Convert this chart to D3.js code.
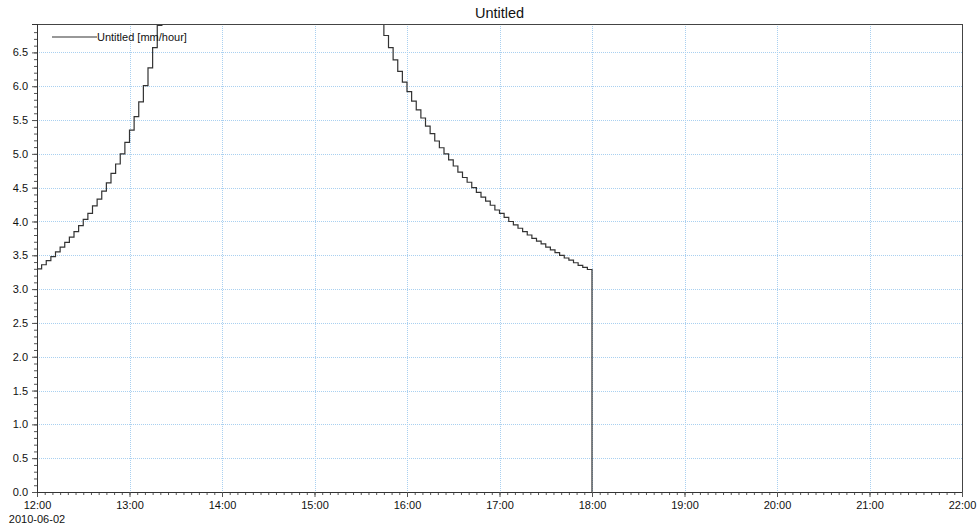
<!DOCTYPE html>
<html>
<head>
<meta charset="utf-8">
<script src="https://cdn.jsdelivr.net/npm/d3@7"></script>
<style>
  body { margin: 0; background: #fff; }
  svg { display: block; font-family: "Liberation Sans", Arial, sans-serif; }
</style>
</head>
<body>
<div id="chart-area"></div>
<script>
// series: rainfall intensity, one value per 3 minute step starting 2010-06-02 12:00
var seriesName = "Untitled [mm/hour]";
var chartTitle = "Untitled";
var startTime = "2010-06-02 12:00";
var stepMinutes = 3;
var intensity = [
    3.30, 3.36, 3.42, 3.48, 3.55, 3.62, 3.69, 3.77, 3.85, 3.94,
    4.03, 4.12, 4.23, 4.33, 4.45, 4.57, 4.71, 4.85, 5.00, 5.17,
    5.35, 5.55, 5.77, 6.01, 6.27, 6.57, 6.90, 7.28, 7.72, 8.22,
    8.80, 9.50, 10.3, 11.3, 12.6, 14.3, 16.5, 19.5, 23.5, 29.0,
    37.0, 48.0, 63.0, 82.0, 105.0, 92.0, 78.0, 66.0, 56.0, 47.0,
    40.0, 34.0, 29.5, 26.0, 23.0, 20.7, 18.7, 17.0, 15.6, 14.4,
    13.4, 12.5, 11.7, 11.0, 10.4, 9.90, 9.40, 9.00, 8.61, 8.27,
    7.96, 7.68, 7.42, 7.18, 6.96, 6.75, 6.57, 6.39, 6.22, 6.06,
    5.92, 5.78, 5.65, 5.53, 5.41, 5.30, 5.19, 5.09, 5.00, 4.91,
    4.82, 4.73, 4.65, 4.58, 4.50, 4.43, 4.36, 4.30, 4.24, 4.17,
    4.12, 4.06, 4.00, 3.95, 3.90, 3.85, 3.80, 3.75, 3.71, 3.67,
    3.62, 3.58, 3.54, 3.50, 3.46, 3.43, 3.39, 3.35, 3.32, 3.29
];
var xDomain = ["2010-06-02 12:00", "2010-06-02 22:00"];
var yDomain = [0, 6.92];
var yTickValues = [0, 0.5, 1, 1.5, 2, 2.5, 3, 3.5, 4, 4.5, 5, 5.5, 6, 6.5];

var width = 979, height = 529;
var margin = {top: 24, right: 17, bottom: 37, left: 37};
var innerW = width - margin.left - margin.right;
var innerH = height - margin.top - margin.bottom;

var parseTime = d3.timeParse("%Y-%m-%d %H:%M");
var t0 = parseTime(startTime);

var dataset = intensity.map(function(v, i) {
    return {time: d3.timeMinute.offset(t0, i * stepMinutes), value: v};
});
// step ends at 18:00 and drops to zero
var last = dataset[dataset.length - 1];
dataset.push({time: d3.timeMinute.offset(last.time, stepMinutes), value: last.value});
dataset.push({time: d3.timeMinute.offset(last.time, stepMinutes), value: 0});

var xScale = d3.scaleTime()
    .domain(xDomain.map(parseTime))
    .range([0, innerW]);
var yScale = d3.scaleLinear()
    .domain(yDomain)
    .range([innerH, 0]);

var svg = d3.select("#chart-area").append("svg")
    .attr("width", width)
    .attr("height", height);

svg.append("text")
    .attr("x", margin.left + innerW / 2)
    .attr("y", 18)
    .attr("text-anchor", "middle")
    .style("font-size", "14.5px")
    .style("fill", "#111")
    .text(chartTitle);

var g = svg.append("g")
    .attr("transform", "translate(" + margin.left + "," + margin.top + ")");

g.append("clipPath").attr("id", "plot-clip")
    .append("rect")
    .attr("width", innerW)
    .attr("height", innerH);

// grid
var hourTicks = xScale.ticks(d3.timeHour.every(1));
g.append("g").selectAll("line").data(hourTicks.slice(1, -1)).enter().append("line")
    .attr("x1", function(d) { return Math.round(xScale(d)) + 0.5; })
    .attr("x2", function(d) { return Math.round(xScale(d)) + 0.5; })
    .attr("y1", 0)
    .attr("y2", innerH)
    .style("stroke", "#a9d0f0")
    .style("stroke-dasharray", "1,1");
g.append("g").selectAll("line").data(yTickValues.slice(1)).enter().append("line")
    .attr("x1", 0)
    .attr("x2", innerW)
    .attr("y1", function(d) { return Math.round(yScale(d)) + 0.5; })
    .attr("y2", function(d) { return Math.round(yScale(d)) + 0.5; })
    .style("stroke", "#a9d0f0")
    .style("stroke-dasharray", "1,1");

// series
var line = d3.line()
    .x(function(d) { return xScale(d.time); })
    .y(function(d) { return yScale(d.value); })
    .curve(d3.curveStepAfter);

g.append("path")
    .datum(dataset)
    .attr("clip-path", "url(#plot-clip)")
    .attr("d", line)
    .style("fill", "none")
    .style("stroke", "#333")
    .style("stroke-width", 1.2);

// frame
g.append("rect")
    .attr("x", 0.5)
    .attr("y", 0.5)
    .attr("width", innerW)
    .attr("height", innerH)
    .style("fill", "none")
    .style("stroke", "#444");

// x axis: hour labels, 5 minute minor ticks
var xMinor = d3.axisBottom(xScale)
    .ticks(d3.timeMinute.every(5))
    .tickSize(3)
    .tickFormat("");
var xAxis = d3.axisBottom(xScale)
    .ticks(d3.timeHour.every(1))
    .tickSize(5)
    .tickPadding(4)
    .tickFormat(d3.timeFormat("%H:%M"));

var gxm = g.append("g").attr("transform", "translate(0," + innerH + ")").call(xMinor);
var gx = g.append("g").attr("transform", "translate(0," + innerH + ")").call(xAxis);
gx.selectAll("text").style("font-size", "11px").style("fill", "#111");
gx.append("text")
    .attr("x", xScale(parseTime(xDomain[0])))
    .attr("y", 31)
    .attr("text-anchor", "middle")
    .style("font-size", "11px")
    .style("fill", "#111")
    .text(d3.timeFormat("%Y-%m-%d")(parseTime(xDomain[0])));

// y axis: 0.5 labels, 0.1 minor ticks
var yMinor = d3.axisLeft(yScale)
    .tickValues(d3.range(0, 69).map(function(i) { return i / 10; }))
    .tickSize(3)
    .tickFormat("");
var yAxis = d3.axisLeft(yScale)
    .tickValues(yTickValues)
    .tickSize(5)
    .tickPadding(4)
    .tickFormat(d3.format(".1f"));

var gym = g.append("g").call(yMinor);
var gy = g.append("g").call(yAxis);
gy.selectAll("text").style("font-size", "11px").style("fill", "#111");

[gxm, gx, gym, gy].forEach(function(a) {
    a.select(".domain").style("stroke", "#333");
    a.selectAll(".tick line").style("stroke", "#555");
});

// legend
var legend = g.append("g").attr("transform", "translate(15,13)");
legend.append("line")
    .attr("x1", 0)
    .attr("x2", 45)
    .style("stroke", "#333")
    .style("stroke-width", 1.2);
legend.append("text")
    .attr("x", 45)
    .attr("y", 4)
    .style("font-size", "11px")
    .style("fill", "#111")
    .text(seriesName);
</script>
</body>
</html>
